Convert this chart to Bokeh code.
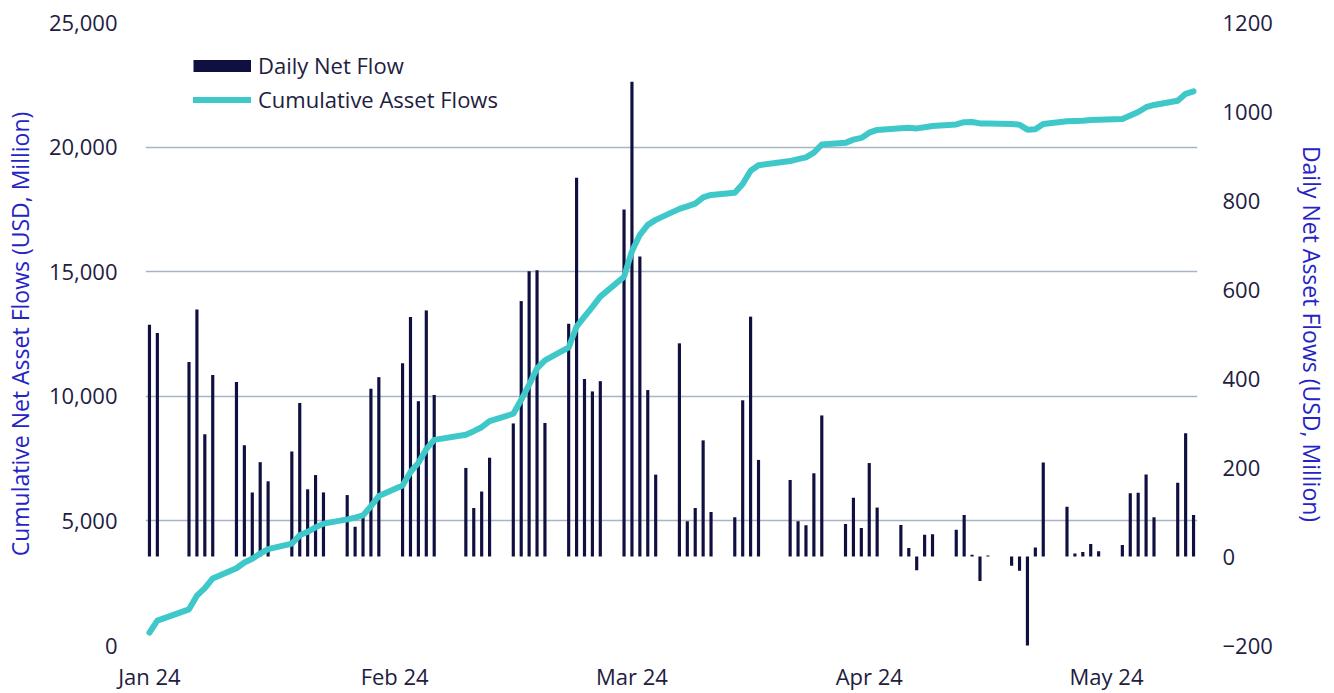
import pandas as pd
from bokeh.plotting import figure
from bokeh.models import (Range1d, LinearAxis, FixedTicker, NumeralTickFormatter, Legend,
                          LegendItem, ColumnDataSource)
from bokeh.embed import file_html
from bokeh.resources import INLINE

# ---------------- data ----------------
dates = [
    "2024-01-11", "2024-01-12",
    "2024-01-16", "2024-01-17", "2024-01-18", "2024-01-19",
    "2024-01-22", "2024-01-23", "2024-01-24", "2024-01-25", "2024-01-26",
    "2024-01-29", "2024-01-30", "2024-01-31", "2024-02-01", "2024-02-02",
    "2024-02-05", "2024-02-06", "2024-02-07", "2024-02-08", "2024-02-09",
    "2024-02-12", "2024-02-13", "2024-02-14", "2024-02-15", "2024-02-16",
    "2024-02-20", "2024-02-21", "2024-02-22", "2024-02-23",
    "2024-02-26", "2024-02-27", "2024-02-28", "2024-02-29", "2024-03-01",
    "2024-03-04", "2024-03-05", "2024-03-06", "2024-03-07", "2024-03-08",
    "2024-03-11", "2024-03-12", "2024-03-13", "2024-03-14", "2024-03-15",
    "2024-03-18", "2024-03-19", "2024-03-20", "2024-03-21", "2024-03-22",
    "2024-03-25", "2024-03-26", "2024-03-27", "2024-03-28",
    "2024-04-01", "2024-04-02", "2024-04-03", "2024-04-04", "2024-04-05",
    "2024-04-08", "2024-04-09", "2024-04-10", "2024-04-11", "2024-04-12",
    "2024-04-15", "2024-04-16", "2024-04-17", "2024-04-18", "2024-04-19",
    "2024-04-22", "2024-04-23", "2024-04-24", "2024-04-25", "2024-04-26",
    "2024-04-29", "2024-04-30", "2024-05-01", "2024-05-02", "2024-05-03",
    "2024-05-06", "2024-05-07", "2024-05-08", "2024-05-09", "2024-05-10",
    "2024-05-13", "2024-05-14", "2024-05-15", "2024-05-16", "2024-05-17",
    "2024-05-20", "2024-05-21", "2024-05-22",
]

daily_flow = [
    521, 502,
    437, 555, 275, 408,
    392, 250, 144, 212, 169,
    236, 345, 151, 183, 144,
    138, 67, 90, 377, 403,
    434, 538, 349, 553, 363,
    199, 109, 146, 222,
    299, 574, 641, 643, 300,
    523, 851, 399, 371, 394,
    780, 1067, 674, 374, 184,
    479, 79, 109, 261, 100,
    88, 351, 539, 217,
    172, 79, 70, 187, 317,
    73, 132, 64, 210, 110,
    71, 19, -31, 49, 50,
    60, 93, 4, -55, 2,
    -21, -32, -205, 20, 211,
    112, 7, 10, 28, 12,
    26, 142, 143, 184, 88,
    166, 277, 93,
]

cumulative_flow = [
    520, 1000,
    1450, 2000, 2300, 2690,
    3100, 3330, 3480, 3690, 3870,
    4090, 4420, 4560, 4740, 4890,
    5060, 5130, 5220, 5590, 6000,
    6420, 6960, 7330, 7880, 8250,
    8460, 8600, 8760, 9000,
    9300, 9860, 10470, 11120, 11440,
    11960, 12800, 13200, 13590, 14000,
    14800, 15820, 16480, 16880, 17080,
    17520, 17620, 17730, 17980, 18080,
    18170, 18520, 19050, 19270,
    19440, 19520, 19590, 19780, 20100,
    20170, 20300, 20370, 20580, 20690,
    20760, 20780, 20750, 20800, 20850,
    20910, 21000, 21010, 20950, 20950,
    20930, 20900, 20700, 20720, 20930,
    21040, 21050, 21060, 21090, 21100,
    21130, 21270, 21410, 21600, 21690,
    21860, 22140, 22240,
]

tick_dates = ["2024-01-11", "2024-02-11", "2024-03-12", "2024-04-11", "2024-05-11"]
tick_labels = ["Jan 24", "Feb 24", "Mar 24", "Apr 24", "May 24"]
left_ticks = [0, 5000, 10000, 15000, 20000, 25000]
right_ticks = [-200, 0, 200, 400, 600, 800, 1000, 1200]

# ---------------- styling ----------------
FONT = "Open Sans"
TICK_COLOR = "#1e2040"
TITLE_COLOR = "#2424c4"
BAR_COLOR = "#0f1040"
LINE_COLOR = "#3ec8c9"
GRID_COLOR = "#a9b4c2"

x = pd.to_datetime(dates)
tick_ms = [pd.Timestamp(d).value / 1e6 for d in tick_dates]

p = figure(
    width=1334, height=693,
    x_axis_type="datetime",
    x_range=Range1d(pd.Timestamp("2024-01-10 12:00"), pd.Timestamp("2024-05-22 12:00")),
    y_range=Range1d(0, 25000),
    output_backend="svg", toolbar_location=None,
    min_border_left=145, min_border_right=137, min_border_top=22, min_border_bottom=48,
)
p.outline_line_color = None
p.background_fill_color = "white"
p.border_fill_color = "white"
p.extra_y_ranges = {"daily": Range1d(-200, 1200)}

bars = p.vbar(x=x, top=daily_flow, bottom=0, width=0.4 * 86400000,
              y_range_name="daily", fill_color=BAR_COLOR, line_color=None)
line = p.line(x=x, y=cumulative_flow, line_width=6, line_color=LINE_COLOR,
              line_join="round", line_cap="round")

# legend key for the bars: a thick square-ended stroke (draws nothing in the plot)
bar_key = p.line(x="x", y="y",
                 source=ColumnDataSource(data=dict(x=[x[0]], y=[float("nan")])),
                 line_width=12, line_color=BAR_COLOR, line_cap="butt")

# grid
p.xgrid.visible = False
p.ygrid.ticker = FixedTicker(ticks=left_ticks)
p.ygrid.grid_line_color = GRID_COLOR
p.ygrid.grid_line_width = 1.5


def style_axis(ax, title_size="23px"):
    ax.axis_line_color = None
    ax.major_tick_line_color = None
    ax.minor_tick_line_color = None
    ax.major_tick_out = 0
    ax.major_tick_in = 0
    ax.minor_tick_out = 0
    ax.minor_tick_in = 0
    ax.major_label_text_font = FONT
    ax.major_label_text_font_size = "22px"
    ax.major_label_text_color = TICK_COLOR
    ax.axis_label_text_font = FONT
    ax.axis_label_text_font_size = title_size
    ax.axis_label_text_font_style = "normal"
    ax.axis_label_text_color = TITLE_COLOR


# left axis
yl = p.yaxis[0]
yl.ticker = FixedTicker(ticks=left_ticks)
yl.formatter = NumeralTickFormatter(format="0,0")
yl.axis_label = "Cumulative Net Asset Flows (USD, Million)"
style_axis(yl)
yl.major_label_standoff = 28
yl.axis_label_standoff = 10

# right axis
yr = LinearAxis(y_range_name="daily", ticker=FixedTicker(ticks=right_ticks),
                axis_label="Daily Net Asset Flows (USD, Million)")
style_axis(yr)
yr.major_label_standoff = 25
yr.axis_label_standoff = 20
p.add_layout(yr, "right")

# x axis
xa = p.xaxis[0]
xa.ticker = FixedTicker(ticks=tick_ms)
xa.major_label_overrides = {t: lab for t, lab in zip(tick_ms, tick_labels)}
style_axis(xa)
xa.major_label_standoff = 15

legend = Legend(items=[
    LegendItem(label="Daily Net Flow", renderers=[bar_key]),
    LegendItem(label="Cumulative Asset Flows", renderers=[line]),
], location=(48, 531))
legend.border_line_color = None
legend.background_fill_alpha = 0
legend.padding = 0
legend.margin = 0
legend.spacing = 4
legend.glyph_width = 58
legend.glyph_height = 15
legend.label_standoff = 7
legend.label_text_font = FONT
legend.label_text_font_size = "22px"
legend.label_text_color = TICK_COLOR
p.add_layout(legend)

open("out.html", "w").write(file_html(p, INLINE))
